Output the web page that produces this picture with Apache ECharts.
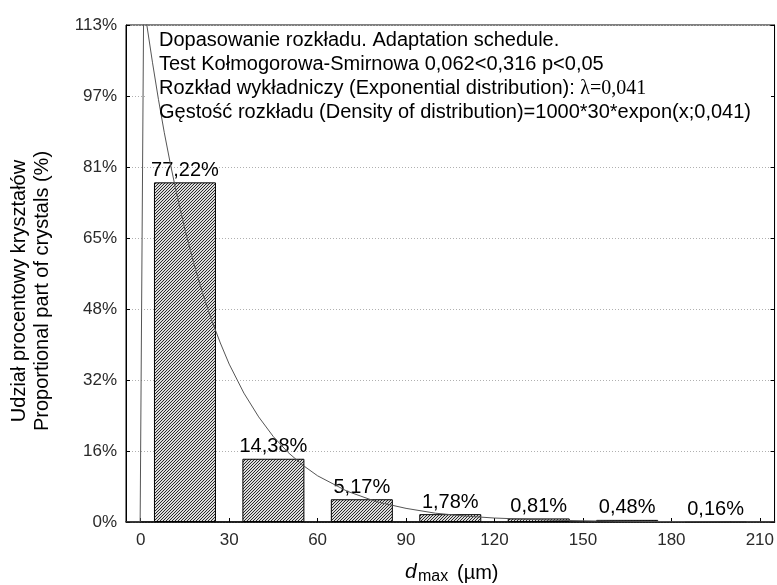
<!DOCTYPE html>
<html>
<head>
<meta charset="utf-8">
<script src="https://cdn.jsdelivr.net/npm/echarts@6/dist/echarts.min.js"></script>
<style>
  html, body { margin: 0; padding: 0; background: #fff; }
  #chart { width: 777px; height: 585px; }
</style>
</head>
<body>
<div id="chart"></div>
<script>
// histogram bins (centre of each 30 um class) and share of crystals in %
var binCenters = [15, 45, 75, 105, 135, 165, 195];
var percents = [77.22, 14.38, 5.17, 1.78, 0.81, 0.48, 0.16];

// fitted exponential curve
var curveX = [-5, -0.2, 1, 2, 4, 6, 8, 10, 12, 15, 18, 21, 24, 27, 30, 35, 40, 45, 50, 55, 60, 70, 80, 90, 100, 110, 120, 140, 160, 180, 200, 215];
var curveY = [0, 0, 118, 113.3, 104.4, 96.1, 88.5, 81.6, 75.2, 66.5, 58.8, 52.0, 46.0, 40.7, 35.9, 29.3, 23.9, 19.4, 15.8, 12.9, 10.5, 7.0, 4.6, 3.1, 2.0, 1.35, 0.9, 0.4, 0.17, 0.08, 0.03, 0.02];

var xTicks = [0, 30, 60, 90, 120, 150, 180, 210];
var yTickLabels = ['0%', '16%', '32%', '48%', '65%', '81%', '97%', '113%'];

var infoLines = [
  'Dopasowanie rozkładu. Adaptation schedule.',
  'Test Kołmogorowa-Smirnowa 0,062<0,316 p<0,05',
  'Rozkład wykładniczy (Exponential distribution): ',
  'Gęstość rozkładu (Density of distribution)=1000*30*expon(x;0,041)'
];
var lambdaText = 'λ=0,041';

var chartDom = document.getElementById('chart');
var myChart = echarts.init(chartDom);

// hatch pattern for the bars (///)
var pat = document.createElement('canvas');
pat.width = 3;
pat.height = 3;
var pctx = pat.getContext('2d');
pctx.fillStyle = '#dcdcdc';
pctx.fillRect(0, 0, 3, 3);
pctx.fillStyle = '#2a2a2a';
for (var i = 0; i < 3; i++) {
  pctx.fillRect(2 - i, i, 1, 1);
}

var yStep = 113 / 7;
var font = 'Liberation Sans, Arial, sans-serif';

var barData = binCenters.map(function (c, i) { return [c, percents[i]]; });
var curveData = curveX.map(function (x, i) { return [x, curveY[i]]; });

var infoGraphics = infoLines.map(function (t, i) {
  var el = {
    type: 'text',
    left: 159,
    top: 30 + i * 24.3,
    z: 5,
    style: {
      text: t,
      font: '20px ' + font,
      fill: '#000'
    }
  };
  if (i === 2) {
    el.style.text = '{a|' + t + '}{b|' + lambdaText + '}';
    el.style.rich = {
      a: { fontFamily: font, fontSize: 20, fill: '#000' },
      b: { fontFamily: 'Liberation Serif, Times New Roman, serif', fontSize: 20, fill: '#000' }
    };
  }
  return el;
});

var option = {
  animation: false,
  grid: {
    left: 126,
    right: 1,
    top: 25,
    bottom: 63,
    show: true,
    borderColor: '#000',
    borderWidth: 1
  },
  xAxis: {
    type: 'value',
    min: -5,
    max: 215,
    axisLine: { show: true, onZero: false, lineStyle: { color: '#000', width: 1.5 } },
    axisTick: { show: true, inside: true, length: 4, customValues: xTicks, lineStyle: { color: '#000' } },
    axisLabel: {
      customValues: xTicks,
      color: '#2a2a2a',
      fontFamily: font,
      fontSize: 17,
      margin: 10
    },
    splitLine: { show: false }
  },
  yAxis: [
    {
      type: 'value',
      min: 0,
      max: 113,
      interval: yStep,
      axisLine: { show: true, onZero: false, lineStyle: { color: '#000' } },
      axisTick: { show: true, inside: true, length: 4, lineStyle: { color: '#000' } },
      axisLabel: {
        color: '#2a2a2a',
        fontFamily: font,
        fontSize: 17,
        margin: 9,
        formatter: function (v) {
          return yTickLabels[Math.round(v / yStep)];
        }
      },
      splitLine: { show: true, lineStyle: { color: '#b0b0b0', type: [1, 2] } }
    },
    {
      type: 'value',
      position: 'right',
      min: 0,
      max: 113,
      interval: yStep,
      axisLine: { show: true, onZero: false, lineStyle: { color: '#000' } },
      axisTick: { show: true, inside: true, length: 4, lineStyle: { color: '#000' } },
      axisLabel: { show: false },
      splitLine: { show: false }
    }
  ],
  graphic: [
    {
      type: 'rect',
      z: 1,
      shape: { x: 146, y: 26, width: 625, height: 98 },
      style: { fill: '#fff' }
    }
  ].concat(infoGraphics).concat([
    {
      type: 'text',
      x: 31,
      y: 291,
      rotation: Math.PI / 2,
      z: 5,
      style: {
        text: 'Udział procentowy kryształów\nProportional part of crystals (%)',
        font: '20px ' + font,
        fill: '#000',
        align: 'center',
        verticalAlign: 'middle',
        lineHeight: 23
      }
    },
    {
      type: 'text',
      x: 405,
      y: 572,
      z: 5,
      style: { text: 'd', font: 'italic 21px ' + font, fill: '#000', verticalAlign: 'middle' }
    },
    {
      type: 'text',
      x: 418,
      y: 577,
      z: 5,
      style: { text: 'max', font: '16px ' + font, fill: '#000', verticalAlign: 'middle' }
    },
    {
      type: 'text',
      x: 457,
      y: 573,
      z: 5,
      style: { text: '(µm)', font: '20px ' + font, fill: '#000', verticalAlign: 'middle' }
    }
  ]),
  series: [
    {
      type: 'bar',
      data: barData,
      barWidth: 62,
      itemStyle: {
        color: { image: pat, repeat: 'repeat' },
        borderColor: '#000',
        borderWidth: 1
      },
      label: {
        show: true,
        position: 'top',
        distance: 2,
        color: '#000',
        fontFamily: font,
        fontSize: 20,
        formatter: function (p) {
          return p.value[1].toFixed(2).replace('.', ',') + '%';
        }
      },
      z: 2
    },
    {
      type: 'line',
      data: curveData,
      showSymbol: false,
      symbol: 'none',
      clip: true,
      lineStyle: { color: '#555', width: 1 },
      z: 3
    }
  ]
};

option && myChart.setOption(option);
window.addEventListener('resize', function () {
  myChart.resize();
});
</script>
</body>
</html>
